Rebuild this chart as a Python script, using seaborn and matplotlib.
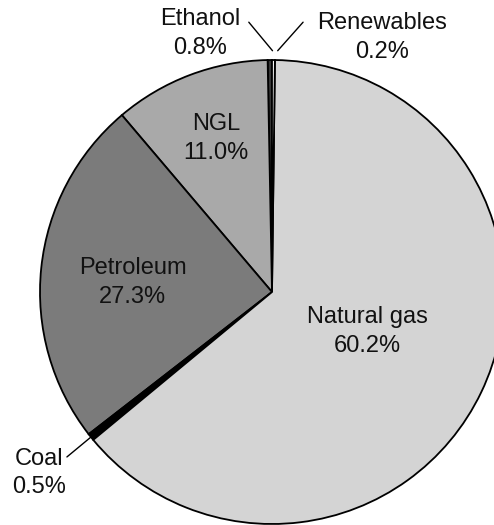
import matplotlib
matplotlib.use("Agg")
import matplotlib.pyplot as plt
import seaborn as sns
import numpy as np

# Energy sources, listed counterclockwise starting at 12 o'clock
sources = ["Ethanol", "NGL", "Petroleum", "Coal", "Natural gas", "Renewables"]
# wedge sizes as drawn in the reference (%)
shares = [0.3, 10.9, 24.3, 0.5, 63.8, 0.2]
# percentages printed on the chart
pct_labels = ["0.8%", "11.0%", "27.3%", "0.5%", "60.2%", "0.2%"]
colors = ["#363636", "#a9a9a9", "#7b7b7b", "#000000", "#d4d4d4", "#ffffff"]

sns.set_style("white")
plt.rcParams['font.family'] = ['Liberation Sans', 'DejaVu Sans']

W, H = 494, 525
fig = plt.figure(figsize=(W / 100, H / 100), dpi=100)
ax = fig.add_axes([0, 0, 1, 1])

wedges, _ = ax.pie(shares, colors=colors, startangle=90, counterclock=True,
                   radius=1.0,
                   wedgeprops=dict(edgecolor="black", linewidth=1.3))

# pie centre sits at (272, 292) px, radius 232 px
r_px, cx, cy = 232, 272, 292
ax.set_xlim(-cx / r_px, (W - cx) / r_px)
ax.set_ylim(-(H - cy) / r_px, cy / r_px)
ax.set_aspect("auto")
ax.axis("off")

fs = 17
txt = dict(ha="center", va="center", fontsize=fs, color="#111111", linespacing=1.4)

def label(name, x, y):
    i = sources.index(name)
    ax.text(x, y, f"{name}\n{pct_labels[i]}", **txt)

# labels inside the big wedges
label("Natural gas", 0.41, -0.17)
label("Petroleum", -0.60, 0.04)
label("NGL", -0.24, 0.66)

# small wedges get outside labels with leader lines
def mid_point(name, r):
    w = wedges[sources.index(name)]
    a = np.deg2rad((w.theta1 + w.theta2) / 2)
    return r * np.cos(a), r * np.sin(a)

label("Ethanol", -0.31, 1.115)
x0, y0 = mid_point("Ethanol", 1.04)
ax.plot([x0 + 0.012, -0.10], [y0, 1.163], color="black", lw=1)

label("Renewables", 0.474, 1.097)
x0, y0 = mid_point("Renewables", 1.04)
ax.plot([x0 + 0.018, 0.134], [y0, 1.163], color="black", lw=1)

label("Coal", -1.004, -0.78)
x0, y0 = mid_point("Coal", 1.0)
ax.plot([x0, -0.884], [y0, -0.711], color="black", lw=1)

fig.savefig("out.png", dpi=100)
